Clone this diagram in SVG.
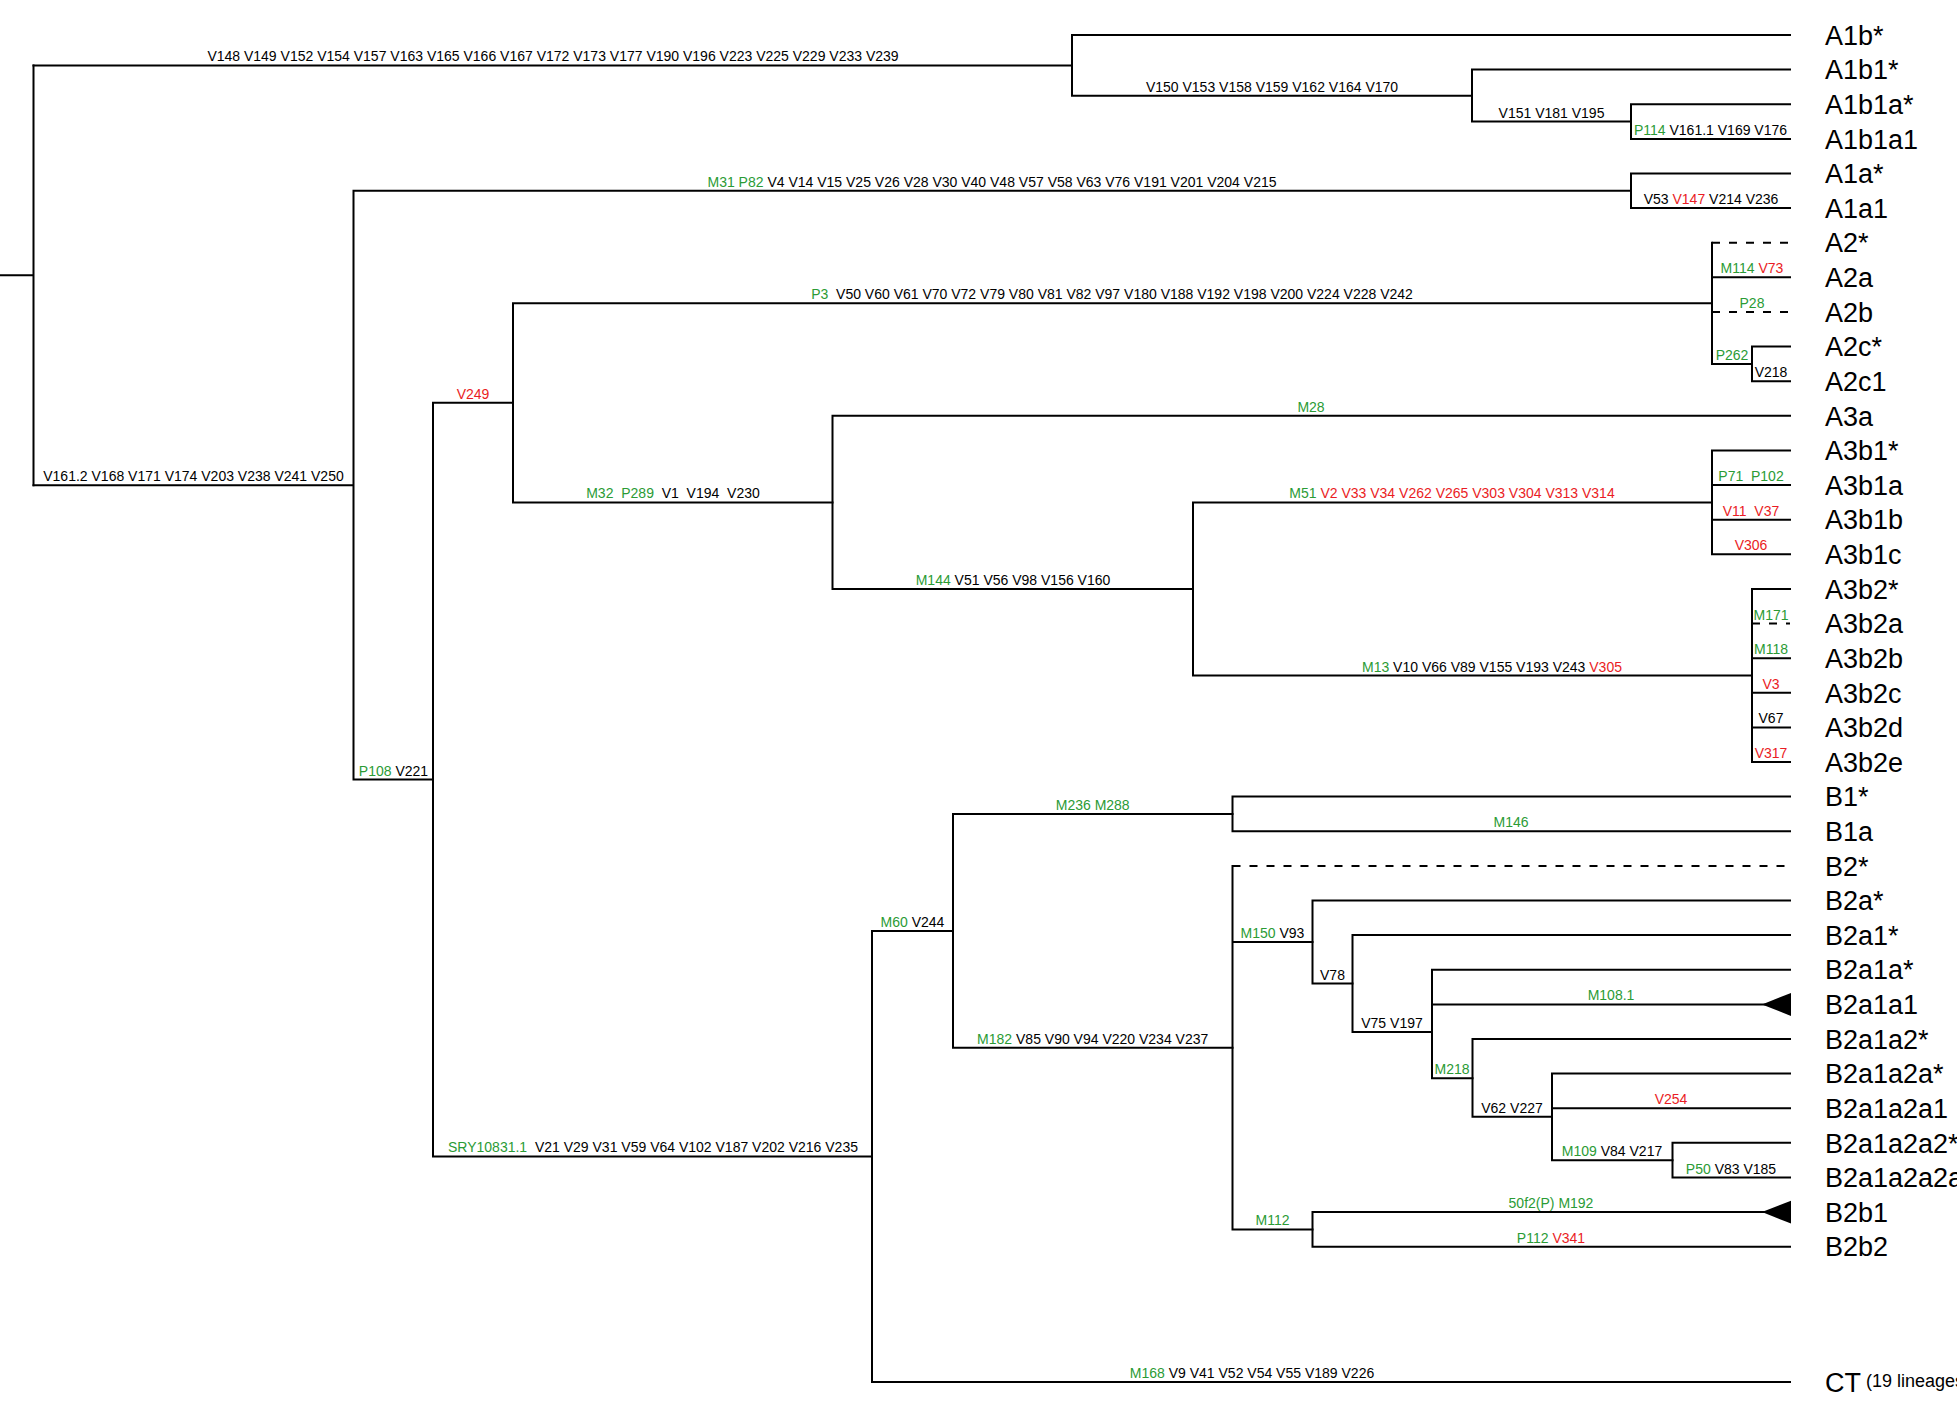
<svg xmlns="http://www.w3.org/2000/svg" width="1957" height="1411" viewBox="0 0 1957 1411">
<style>
.br{stroke:#000;stroke-width:2;fill:none;stroke-linecap:square}
.dash{stroke:#000;stroke-width:2;fill:none;stroke-dasharray:8 9}
.tri{fill:#000}
.lbl{font-family:"Liberation Sans",Arial,sans-serif;font-size:14px;text-anchor:middle;fill:#000}
.g{fill:#2b9b35}
.r{fill:#ea1c24}
.leaf{font-family:"Liberation Sans",Arial,sans-serif;font-size:27px;fill:#000}
.sup{font-size:18px}
</style>
<rect width="1957" height="1411" fill="#fff"/>
<g id="connectors">
<!-- root -->
<path class="br" d="M0 275.3H33.5M33.5 65.4V485.2"/>
<!-- A1b clade -->
<path class="br" d="M33.5 65.4H1072M1072 35V95.8M1072 35H1790M1072 95.8H1472"/>
<path class="br" d="M1472 69.6V121.5M1472 69.6H1790M1472 121.5H1631"/>
<path class="br" d="M1631 104.2V138.9M1631 104.2H1790M1631 138.9H1790"/>
<!-- rest -->
<path class="br" d="M33.5 485.2H353.5M353.5 190.8V779.6M353.5 190.8H1631M353.5 779.6H433"/>
<path class="br" d="M1631 173.5V208.1M1631 173.5H1790M1631 208.1H1790"/>
<path class="br" d="M433 402.8V1156.4M433 402.8H513M433 1156.4H872"/>
<path class="br" d="M513 303.3V502.4M513 303.3H1712M513 502.4H832.5"/>
<!-- A2 -->
<path class="br" d="M1712 242.7V363.9M1712 277.3H1790M1712 363.9H1752"/>
<path class="dash" d="M1712 242.7H1790M1712 312H1790"/>
<path class="br" d="M1752 346.6V381.2M1752 346.6H1790M1752 381.2H1790"/>
<!-- A3 -->
<path class="br" d="M832.5 415.8V588.9M832.5 415.8H1790M832.5 588.9H1193"/>
<path class="br" d="M1193 502.4V675.5M1193 502.4H1712M1193 675.5H1752"/>
<path class="br" d="M1712 450.4V554.3M1712 450.4H1790M1712 485.1H1790M1712 519.7H1790M1712 554.3H1790"/>
<path class="br" d="M1752 588.9V762M1752 588.9H1790M1752 658.2H1790M1752 692.8H1790M1752 727.4H1790M1752 762H1790"/>
<path class="dash" d="M1752 623.5H1790"/>
<!-- B / CT -->
<path class="br" d="M872 930.9V1382M872 930.9H953M872 1382H1790"/>
<path class="br" d="M953 814V1047.7M953 814H1232.5M953 1047.7H1232.5"/>
<path class="br" d="M1232.5 796.6V831.3M1232.5 796.6H1790M1232.5 831.3H1790"/>
<path class="br" d="M1232.5 865.9V1229.4M1232.5 942H1312.5M1232.5 1229.4H1312.5"/>
<path class="dash" d="M1232.5 865.9H1790"/>
<path class="br" d="M1312.5 900.5V983.6M1312.5 900.5H1790M1312.5 983.6H1352.5"/>
<path class="br" d="M1352.5 935.1V1032M1352.5 935.1H1790M1352.5 1032H1432"/>
<path class="br" d="M1432 969.7V1078.3M1432 969.7H1790M1432 1004.4H1790M1432 1078.3H1472.5"/>
<path class="br" d="M1472.5 1039V1116.8M1472.5 1039H1790M1472.5 1116.8H1552"/>
<path class="br" d="M1552 1073.6V1160.2M1552 1073.6H1790M1552 1108.2H1790M1552 1160.2H1672.5"/>
<path class="br" d="M1672.5 1142.8V1177.5M1672.5 1142.8H1790M1672.5 1177.5H1790"/>
<path class="br" d="M1312.5 1212.1V1246.7M1312.5 1212.1H1790M1312.5 1246.7H1790"/>
<polygon class="tri" points="1762,1004.4 1791,993 1791,1016"/>
<polygon class="tri" points="1762,1212.1 1791,1200.7 1791,1223.5"/>
</g>
<g id="edge-labels">
<text class="lbl" x="553" y="61.4">V148 V149 V152 V154 V157 V163 V165 V166 V167 V172 V173 V177 V190 V196 V223 V225 V229 V233 V239</text>
<text class="lbl" x="1272" y="91.8">V150 V153 V158 V159 V162 V164 V170</text>
<text class="lbl" x="1551.5" y="117.5">V151 V181 V195</text>
<text class="lbl" x="1710.5" y="134.9"><tspan class="g">P114</tspan> V161.1 V169 V176</text>
<text class="lbl" x="992" y="186.8"><tspan class="g">M31 P82</tspan> V4 V14 V15 V25 V26 V28 V30 V40 V48 V57 V58 V63 V76 V191 V201 V204 V215</text>
<text class="lbl" x="1711" y="204.1">V53 <tspan class="r">V147</tspan> V214 V236</text>
<text class="lbl" x="193.5" y="481.2">V161.2 V168 V171 V174 V203 V238 V241 V250</text>
<text class="lbl" x="393.5" y="775.6"><tspan class="g">P108</tspan> V221</text>
<text class="lbl r" x="473" y="398.8">V249</text>
<text class="lbl" x="1112" y="299.3" xml:space="preserve"><tspan class="g">P3</tspan>  V50 V60 V61 V70 V72 V79 V80 V81 V82 V97 V180 V188 V192 V198 V200 V224 V228 V242</text>
<text class="lbl" x="673" y="498.4" xml:space="preserve"><tspan class="g">M32  P289</tspan>  V1  V194  V230</text>
<text class="lbl g" x="1311" y="411.8">M28</text>
<text class="lbl" x="1013" y="584.9"><tspan class="g">M144</tspan> V51 V56 V98 V156 V160</text>
<text class="lbl" x="1452" y="498.4"><tspan class="g">M51</tspan><tspan class="r"> V2 V33 V34 V262 V265 V303 V304 V313 V314</tspan></text>
<text class="lbl" x="1492" y="671.5"><tspan class="g">M13</tspan> V10 V66 V89 V155 V193 V243 <tspan class="r">V305</tspan></text>
<text class="lbl" x="1752" y="273.3"><tspan class="g">M114</tspan> <tspan class="r">V73</tspan></text>
<text class="lbl g" x="1752" y="308">P28</text>
<text class="lbl g" x="1732" y="359.9">P262</text>
<text class="lbl" x="1771" y="377.2">V218</text>
<text class="lbl g" x="1751" y="481.1" xml:space="preserve">P71  P102</text>
<text class="lbl r" x="1751" y="515.7" xml:space="preserve">V11  V37</text>
<text class="lbl r" x="1751" y="550.3">V306</text>
<text class="lbl g" x="1771" y="619.5">M171</text>
<text class="lbl g" x="1771" y="654.2">M118</text>
<text class="lbl r" x="1771" y="688.8">V3</text>
<text class="lbl" x="1771" y="723.4">V67</text>
<text class="lbl r" x="1771" y="758">V317</text>
<text class="lbl" x="653" y="1152.4" xml:space="preserve"><tspan class="g">SRY10831.1</tspan>  V21 V29 V31 V59 V64 V102 V187 V202 V216 V235</text>
<text class="lbl" x="912.5" y="926.9"><tspan class="g">M60</tspan> V244</text>
<text class="lbl g" x="1092.7" y="810">M236 M288</text>
<text class="lbl" x="1092.7" y="1043.7"><tspan class="g">M182</tspan> V85 V90 V94 V220 V234 V237</text>
<text class="lbl g" x="1511" y="827.3">M146</text>
<text class="lbl" x="1272.5" y="938"><tspan class="g">M150</tspan> V93</text>
<text class="lbl" x="1332.5" y="979.6">V78</text>
<text class="lbl" x="1392" y="1028">V75 V197</text>
<text class="lbl g" x="1611" y="1000.4">M108.1</text>
<text class="lbl g" x="1452" y="1074.3">M218</text>
<text class="lbl" x="1512" y="1112.8">V62 V227</text>
<text class="lbl r" x="1671" y="1104.2">V254</text>
<text class="lbl" x="1612" y="1156.2"><tspan class="g">M109</tspan> V84 V217</text>
<text class="lbl" x="1731" y="1173.5"><tspan class="g">P50</tspan> V83 V185</text>
<text class="lbl g" x="1272.5" y="1225.4">M112</text>
<text class="lbl g" x="1551" y="1208.1">50f2(P) M192</text>
<text class="lbl" x="1551" y="1242.7"><tspan class="g">P112</tspan> <tspan class="r">V341</tspan></text>
<text class="lbl" x="1252" y="1378"><tspan class="g">M168</tspan> V9 V41 V52 V54 V55 V189 V226</text>
</g>
<g id="leaf-A1b-star"><text class="leaf" x="1825" y="44.7">A1b*</text></g>
<g id="leaf-A1b1-star"><text class="leaf" x="1825" y="79.3">A1b1*</text></g>
<g id="leaf-A1b1a-star"><text class="leaf" x="1825" y="113.9">A1b1a*</text></g>
<g id="leaf-A1b1a1"><text class="leaf" x="1825" y="148.6">A1b1a1</text></g>
<g id="leaf-A1a-star"><text class="leaf" x="1825" y="183.2">A1a*</text></g>
<g id="leaf-A1a1"><text class="leaf" x="1825" y="217.8">A1a1</text></g>
<g id="leaf-A2-star"><text class="leaf" x="1825" y="252.4">A2*</text></g>
<g id="leaf-A2a"><text class="leaf" x="1825" y="287">A2a</text></g>
<g id="leaf-A2b"><text class="leaf" x="1825" y="321.7">A2b</text></g>
<g id="leaf-A2c-star"><text class="leaf" x="1825" y="356.3">A2c*</text></g>
<g id="leaf-A2c1"><text class="leaf" x="1825" y="390.9">A2c1</text></g>
<g id="leaf-A3a"><text class="leaf" x="1825" y="425.5">A3a</text></g>
<g id="leaf-A3b1-star"><text class="leaf" x="1825" y="460.1">A3b1*</text></g>
<g id="leaf-A3b1a"><text class="leaf" x="1825" y="494.8">A3b1a</text></g>
<g id="leaf-A3b1b"><text class="leaf" x="1825" y="529.4">A3b1b</text></g>
<g id="leaf-A3b1c"><text class="leaf" x="1825" y="564">A3b1c</text></g>
<g id="leaf-A3b2-star"><text class="leaf" x="1825" y="598.6">A3b2*</text></g>
<g id="leaf-A3b2a"><text class="leaf" x="1825" y="633.2">A3b2a</text></g>
<g id="leaf-A3b2b"><text class="leaf" x="1825" y="667.9">A3b2b</text></g>
<g id="leaf-A3b2c"><text class="leaf" x="1825" y="702.5">A3b2c</text></g>
<g id="leaf-A3b2d"><text class="leaf" x="1825" y="737.1">A3b2d</text></g>
<g id="leaf-A3b2e"><text class="leaf" x="1825" y="771.7">A3b2e</text></g>
<g id="leaf-B1-star"><text class="leaf" x="1825" y="806.3">B1*</text></g>
<g id="leaf-B1a"><text class="leaf" x="1825" y="841">B1a</text></g>
<g id="leaf-B2-star"><text class="leaf" x="1825" y="875.6">B2*</text></g>
<g id="leaf-B2a-star"><text class="leaf" x="1825" y="910.2">B2a*</text></g>
<g id="leaf-B2a1-star"><text class="leaf" x="1825" y="944.8">B2a1*</text></g>
<g id="leaf-B2a1a-star"><text class="leaf" x="1825" y="979.4">B2a1a*</text></g>
<g id="leaf-B2a1a1"><text class="leaf" x="1825" y="1014.1">B2a1a1</text></g>
<g id="leaf-B2a1a2-star"><text class="leaf" x="1825" y="1048.7">B2a1a2*</text></g>
<g id="leaf-B2a1a2a-star"><text class="leaf" x="1825" y="1083.3">B2a1a2a*</text></g>
<g id="leaf-B2a1a2a1"><text class="leaf" x="1825" y="1117.9">B2a1a2a1</text></g>
<g id="leaf-B2a1a2a2-star"><text class="leaf" x="1825" y="1152.5">B2a1a2a2*</text></g>
<g id="leaf-B2a1a2a2a"><text class="leaf" x="1825" y="1187.2">B2a1a2a2a</text></g>
<g id="leaf-B2b1"><text class="leaf" x="1825" y="1221.8">B2b1</text></g>
<g id="leaf-B2b2"><text class="leaf" x="1825" y="1256.4">B2b2</text></g>
<g id="leaf-CT"><text class="leaf" x="1825" y="1391.7">CT<tspan class="sup" dx="5" dy="-5">(19 lineages)</tspan></text></g>
</svg>
